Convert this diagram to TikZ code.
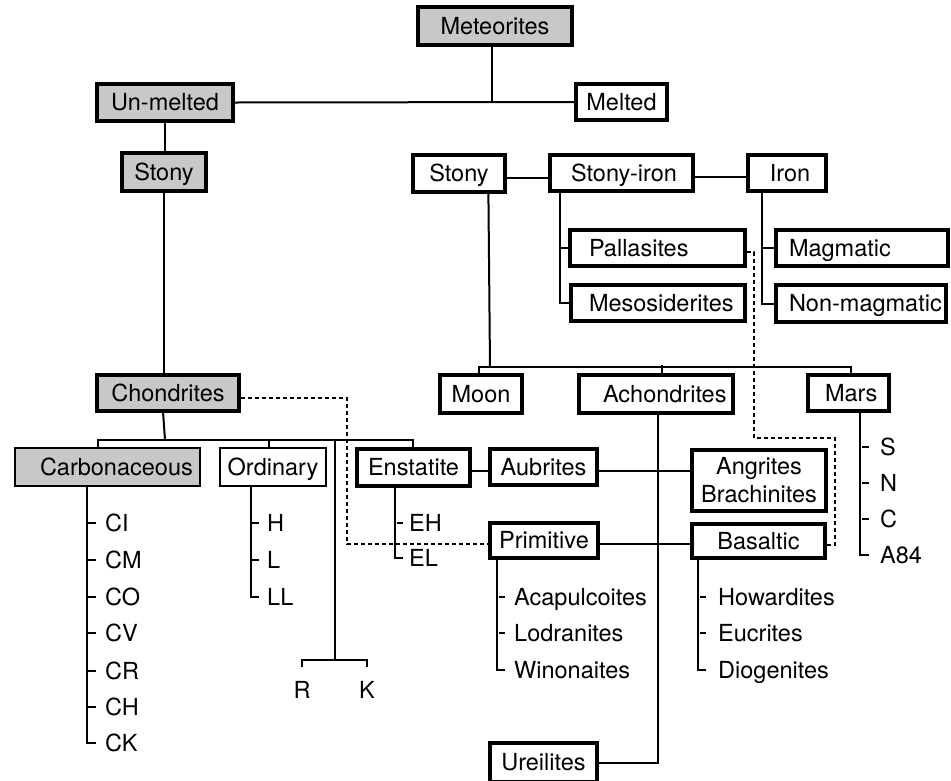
\documentclass[tikz,border=0pt]{standalone}
\usepackage{fontspec}
\setmainfont{TeX Gyre Heros}
\definecolor{boxgray}{RGB}{200,200,200}
\newcommand\lpad[2]{\makebox[#1pt][l]{#2}}
\begin{document}
\begin{tikzpicture}[x=1pt,y=-1pt,
  frame/.style={draw, line width=3.2pt, inner sep=0pt, fill=white,
    font=\fontsize{23.5}{28}\selectfont},
  box/.style={frame, text height=16.8pt, text depth=0pt},
  gbox/.style={box, fill=boxgray, line width=3.8pt},
  thinb/.style={line width=2.3pt},
  sz/.style 2 args={minimum width=#1pt, minimum height=#2pt},
  lbl/.style={anchor=west, inner sep=0pt, text height=16.8pt, text depth=0pt,
    font=\fontsize{23.5}{28}\selectfont},
  con/.style={line width=2pt},
  dsh/.style={line width=1.7pt, dash pattern=on 4pt off 3pt}]
\useasboundingbox (0,0) rectangle (951,780);
\fill[white] (0,0) rectangle (951,780);

% boxes
\node[gbox, sz={154}{38}] (met) at (495,26) {Meteorites};
\node[gbox, sz={136}{37}] (unm) at (165,102.5) {Un-melted};
\node[box, sz={91}{36}] (melt) at (621.5,102) {Melted};
\node[gbox, sz={84}{38}] (stL) at (164,172) {Stony};
\node[box, sz={92}{37}] (stR) at (459,173.5) {Stony};
\node[box, sz={143}{36}] (stiron) at (621.5,173) {\hspace*{5pt}Stony-iron};
\node[box, sz={78}{36}] (iron) at (787,173) {\hspace*{6pt}Iron};
\node[box, sz={175}{36}] (pall) at (657.5,248) {\lpad{137}{Pallasites}};
\node[box, sz={174}{36}] (meso) at (658,303) {\lpad{138}{Mesosiderites}};
\node[box, sz={172}{36}] (mag) at (862,248) {\lpad{146}{Magmatic}};
\node[box, sz={170}{37}] (nonmag) at (861,303.5) {\lpad{144}{Non-magmatic}};
\node[box, sz={82}{38}] (moon) at (481,394) {Moon};
\node[box, sz={154}{38}] (achon) at (656,394) {\lpad{106}{Achondrites}};
\node[box, sz={81}{36}] (mars) at (848.5,393) {\lpad{47}{Mars}};
\node[gbox, sz={142}{36}] (chon) at (168,393) {Chondrites};
\node[gbox, thinb, sz={185}{38}] (carb) at (107.5,467) {\lpad{135}{Carbonaceous}};
\node[box, thinb, sz={106}{38}] (ord) at (273,467) {Ordinary};
\node[box, sz={113}{37}] (enst) at (413.5,467.5) {Enstatite};
\node[box, sz={107}{36}] (aub) at (543.5,467) {Aubrites};
\node[frame, sz={134}{61}, align=center] (angr) at (759,480.5) {Angrites\\Brachinites};
\node[box, sz={108}{35}] (prim) at (544,540.5) {Primitive};
\node[box, sz={133}{34}] (bas) at (758.5,541) {Basaltic};
\node[box, sz={107}{39}] (ure) at (543.5,762.5) {Ureilites};

% labels
\node[lbl] (CI) at (105,523) {CI};
\node[lbl] (CM) at (105,560) {CM};
\node[lbl] (CO) at (105,597) {CO};
\node[lbl] (CV) at (105,633) {CV};
\node[lbl] (CR) at (105,671) {CR};
\node[lbl] (CH) at (105,707) {CH};
\node[lbl] (CK) at (105,743) {CK};
\node[lbl] (H) at (267,523) {H};
\node[lbl] (L) at (267,560) {L};
\node[lbl] (LL) at (267,597) {LL};
\node[lbl] (EH) at (409,523) {EH};
\node[lbl] (EL) at (409,558) {EL};
\node[lbl] (S) at (880,447) {S};
\node[lbl] (N) at (880,483) {N};
\node[lbl] (C) at (880,519) {C};
\node[lbl] (A84) at (880,555) {A84};
\node[lbl] (aca) at (514,597) {Acapulcoites};
\node[lbl] (lod) at (514,633) {Lodranites};
\node[lbl] (win) at (514,670) {Winonaites};
\node[lbl] (how) at (718,597) {Howardites};
\node[lbl] (euc) at (718,633) {Eucrites};
\node[lbl] (dio) at (718,670) {Diogenites};
\node[lbl, anchor=center] (R) at (302,690) {R};
\node[lbl, anchor=center] (K) at (367,690) {K};

% coordinates
\coordinate (cb) at (165,440);
\coordinate (rk) at (335,660);
\coordinate (mb) at (490,367);
\coordinate (d1) at (347,398);
\coordinate (d2) at (754,438);
\coordinate (d3) at (835,438);
\coordinate (pw) at ([yshift=-3.5pt]prim.west);

% top connectors
\draw[con] (unm.east) -- (melt.west);
\draw[con] ([xshift=-3pt]met.south) -- ([xshift=-3pt]met.south |- unm.east);
\draw[con] (unm.south) -- (unm.south |- stL.north);
\draw[con] ([yshift=-4pt]stR.east) -- ([yshift=-4pt]stR.east -| stiron.west);
\draw[con] ([yshift=-4pt]stiron.east) -- ([yshift=-4pt]stiron.east -| iron.west);
\draw[con] ([xshift=12pt]stiron.south west) |- (pall.west);
\draw[con] ([xshift=12pt]stiron.south west) |- (meso.west);
\draw[con] ([xshift=16pt]iron.south west) |- (mag.west);
\draw[con] ([xshift=16pt]iron.south west) |- (nonmag.west);

% melted stony branch
\draw[con] ([xshift=77pt]stR.south west) -- (mb);
\draw[con] ([xshift=-2pt]moon.north) |- (mb) -| ([xshift=2.5pt]mars.north);
\draw[con] ([xshift=6pt]achon.north) -- ++(0,-8);
\draw[con] ([xshift=81pt]achon.south west) |- (ure.east);

% chondrites
\draw[con] (stL.south) -- (stL.south |- chon.north);
\draw[con] ([xshift=68pt]chon.south west) -- (cb);
\draw[con] ([xshift=84pt]carb.north west) |- (cb) -| ([xshift=58pt]enst.north west);
\draw[con] ([xshift=50pt]ord.north west) -- ++(0,-8);
\draw[con] (rk |- cb) -- (rk);
\draw[con] ([yshift=14pt]R.north) |- (rk) -| ([yshift=14pt]K.north);

% lists
\draw[con] ([xshift=73pt]carb.south west) |- ([xshift=-9pt]CK.west);
\foreach \n in {CI,CM,CO,CV,CR,CH}
  \draw[con] ([xshift=-17pt]\n.west) -- ([xshift=-9pt]\n.west);
\draw[con] ([xshift=32pt]ord.south west) |- ([xshift=-8pt]LL.west);
\foreach \n in {H,L}
  \draw[con] ([xshift=-15pt]\n.west) -- ([xshift=-8pt]\n.west);
\draw[con] ([xshift=40pt]enst.south west) |- ([xshift=-6pt]EL.west);
\draw[con] ([xshift=-12pt]EH.west) -- ([xshift=-6pt]EH.west);
\draw[con] ([xshift=54pt]mars.south west) |- ([xshift=-11pt]A84.west);
\foreach \n in {S,N,C}
  \draw[con] ([xshift=-18pt]\n.west) -- ([xshift=-11pt]\n.west);
\draw[con] ([xshift=9pt]prim.south west) |- ([xshift=-9pt]win.west);
\foreach \n in {aca,lod}
  \draw[con] ([xshift=-15pt]\n.west) -- ([xshift=-9pt]\n.west);
\draw[con] ([xshift=8pt]bas.south west) |- ([xshift=-12pt]dio.west);
\foreach \n in {how,euc}
  \draw[con] ([xshift=-18pt]\n.west) -- ([xshift=-12pt]\n.west);

% achondrite sub-classes
\draw[con] ([yshift=-3.5pt]enst.east) -- ([yshift=-3.5pt]enst.east -| aub.west);
\draw[con] ([yshift=-4pt]aub.east) -- ([yshift=-4pt]aub.east -| angr.west);
\draw[con] (pw -| prim.east) -- (pw -| bas.west);

% dashed links
\draw[dsh] ([yshift=-5pt]chon.east) -| (pw -| d1) -- (pw);
\draw[dsh] ([yshift=-4pt]pall.east) -| (d2) -- (d3) |- ([yshift=-4pt]bas.east);
\end{tikzpicture}
\end{document}
